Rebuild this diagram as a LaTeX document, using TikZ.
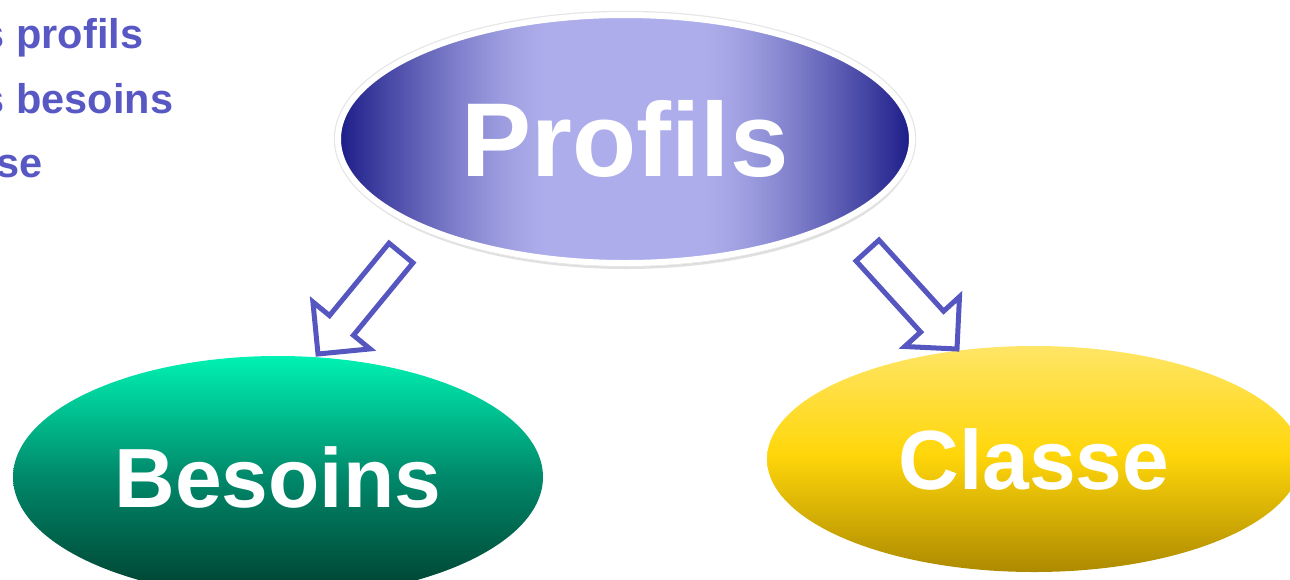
\documentclass[tikz,border=0pt]{standalone}
\usepackage{fontspec}
\setmainfont{Liberation Sans}
\usepackage{tikz}
\usetikzlibrary{shapes.geometric,shadows,calc}
\definecolor{bleutrait}{HTML}{5656C0}
\definecolor{bleutexte}{HTML}{5858C4}
\definecolor{profnuit}{HTML}{1C1C88}
\definecolor{profclair}{HTML}{ADADEB}
\definecolor{vertclair}{HTML}{00F2B2}
\definecolor{vertmoyen}{HTML}{00886A}
\definecolor{vertnuit}{HTML}{003F2E}
\definecolor{orclair}{HTML}{FFE566}
\definecolor{ormoyen}{HTML}{FFD60A}
\definecolor{ornuit}{HTML}{AD8A00}
\pgfdeclarehorizontalshading{profilsfond}{100bp}{color(0bp)=(profnuit); color(25bp)=(profnuit); color(27bp)=(profclair!14!profnuit); color(29bp)=(profclair!28!profnuit); color(31bp)=(profclair!41!profnuit); color(33bp)=(profclair!54!profnuit); color(35bp)=(profclair!66!profnuit); color(37bp)=(profclair!77!profnuit); color(39bp)=(profclair!87!profnuit); color(41bp)=(profclair!95!profnuit); color(43bp)=(profclair); color(57bp)=(profclair); color(59bp)=(profclair!95!profnuit); color(61bp)=(profclair!87!profnuit); color(63bp)=(profclair!77!profnuit); color(65bp)=(profclair!66!profnuit); color(67bp)=(profclair!54!profnuit); color(69bp)=(profclair!41!profnuit); color(71bp)=(profclair!28!profnuit); color(73bp)=(profclair!14!profnuit); color(75bp)=(profnuit); color(100bp)=(profnuit)}
\pgfdeclareverticalshading{besoinsfond}{100bp}{color(0bp)=(vertnuit); color(25bp)=(vertnuit); color(50bp)=(vertmoyen); color(75bp)=(vertclair); color(100bp)=(vertclair)}
\pgfdeclareverticalshading{classefond}{100bp}{color(0bp)=(ornuit); color(25bp)=(ornuit); color(51bp)=(ormoyen); color(75bp)=(orclair); color(100bp)=(orclair)}
\newcommand{\grossefleche}[2]{%
  \coordinate (#1-pied) at ($(#2)!18.5pt!(#1)$);
  \draw[fleche] ($(#1)!7.75pt!90:(#2)$) -- ($(#1-pied)!7.75pt!90:(#2)$)
    -- ($(#1-pied)!18.5pt!90:(#2)$) -- (#2)
    -- ($(#1-pied)!18.5pt!-90:(#2)$) -- ($(#1-pied)!7.75pt!-90:(#2)$)
    -- ($(#1)!7.75pt!-90:(#2)$) -- cycle;}

\begin{document}
\begin{tikzpicture}[x=0.5pt, y=-0.5pt,
		bulle/.style={ellipse, inner sep=0pt, text=white},
		fleche/.style={draw=bleutrait, line width=2.5pt, fill=white, line join=miter},
		liste/.style={anchor=base west, inner sep=0pt, text=bleutexte, font=\fontsize{20.75}{24}\selectfont\bfseries}]
			\useasboundingbox (0,0) rectangle (1290,579);
			\clip (0,0) rectangle (1290,579);
			% liste en haut a gauche
			\node[liste] (lprofils) at (-18.6,48) {s profils};
			\node[liste] (lbesoins) at (-18.6,113) {s besoins};
			\node[liste] (lclasse) at (-4,177) {se};
			% les trois bulles
			\node[bulle, minimum width=287pt, minimum height=124pt, shading=profilsfond, draw=white, line width=3pt,
				drop shadow={shadow xshift=0.6pt, shadow yshift=-3pt, opacity=0.12, fill=black},
				drop shadow={shadow xshift=0.4pt, shadow yshift=-2pt, opacity=0.2, fill=black},
				preaction={draw=black!10, line width=4.2pt},
				font=\fontsize{52.5}{60}\selectfont\bfseries] (profils) at (625,139) {Profils};
			\node[bulle, minimum width=265pt, minimum height=121pt, shading=besoinsfond,
				font=\fontsize{42}{48}\selectfont\bfseries] (besoins) at (278,477) {Besoins};
			\node[bulle, minimum width=267pt, minimum height=113pt, shading=classefond,
				font=\fontsize{42}{48}\selectfont\bfseries] (classe) at (1034,459) {Classe};
			% fleches
			\coordinate (depg) at (401,253);
			\coordinate (pointeg) at (318,354);
			\coordinate (depd) at (867.5,250.5);
			\coordinate (pointed) at (957,349);
			\grossefleche{depg}{pointeg}
			\grossefleche{depd}{pointed}
		\end{tikzpicture}
\end{document}
